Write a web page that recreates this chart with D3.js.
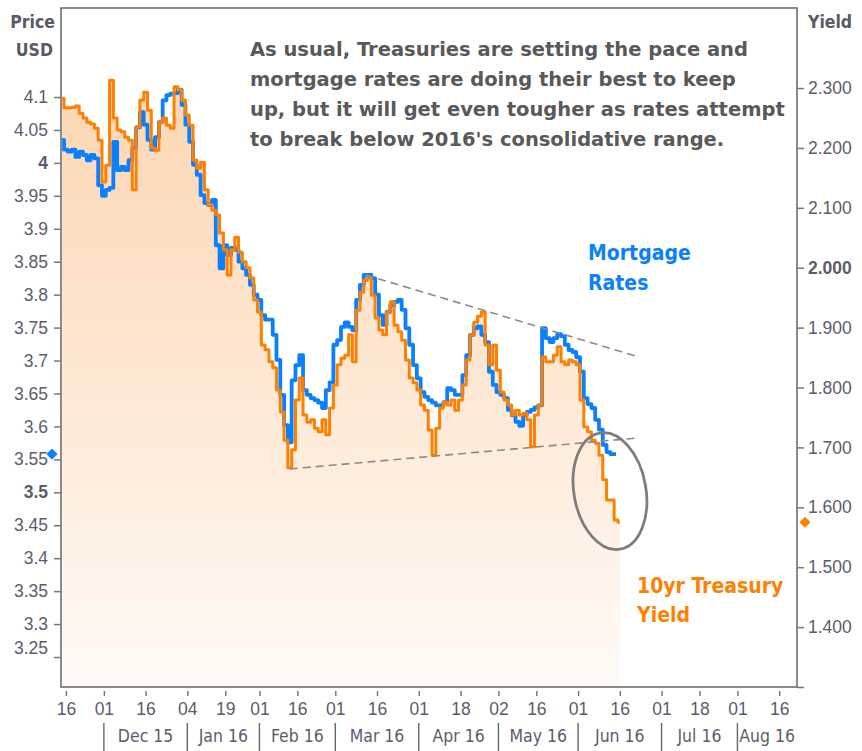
<!DOCTYPE html>
<html>
<head>
<meta charset="utf-8">
<script src="https://cdn.jsdelivr.net/npm/d3@7"></script>
<style>
  body { margin: 0; background: #fff; }
  svg { display: block; font-family: "DejaVu Sans Condensed", "DejaVu Sans", sans-serif; font-stretch: condensed; }
</style>
</head>
<body>
<svg id="chart" width="862" height="751"></svg>
<script>
// first trading day in the series, and bond market holidays (skipped on the x axis)
var startDate = "2015-11-13";
var holidays = ["2015-11-26", "2015-12-25", "2016-01-01", "2016-01-18",
                "2016-02-15", "2016-03-25", "2016-05-30", "2016-07-04"];

// 10yr treasury yield, one value per trading day from Nov 13 2015 (right axis)
var treasuryYield = [
    2.283, 2.267, 2.267, 2.268, 2.270, 2.258, 2.250, 2.243, 2.240, 2.233, 2.213,
    2.143, 2.171, 2.313, 2.250, 2.230, 2.227, 2.218, 2.213, 2.130, 2.235,
    2.280, 2.293, 2.263, 2.200, 2.196, 2.243, 2.250, 2.238, 2.233, 2.302,
    2.297, 2.280, 2.255, 2.238, 2.180, 2.166, 2.176, 2.130, 2.105, 2.096,
    2.088, 2.058, 2.030, 1.988, 2.030, 2.051, 2.026, 2.010, 2.000, 1.983,
    1.946, 1.926, 1.871, 1.863, 1.843, 1.833, 1.796, 1.759, 1.712, 1.666,
    1.696, 1.779, 1.816, 1.754, 1.742, 1.746, 1.732, 1.726, 1.746, 1.721,
    1.766, 1.804, 1.838, 1.849, 1.854, 1.888, 1.843, 1.929, 1.959, 1.979,
    1.983, 1.954, 1.916, 1.896, 1.888, 1.926, 1.943, 1.904, 1.893, 1.879,
    1.846, 1.816, 1.808, 1.796, 1.771, 1.762, 1.729, 1.687, 1.732, 1.766,
    1.776, 1.771, 1.779, 1.762, 1.779, 1.804, 1.846, 1.888, 1.909, 1.919,
    1.926, 1.871, 1.838, 1.871, 1.829, 1.792, 1.779, 1.771, 1.754, 1.762,
    1.754, 1.757, 1.746, 1.701, 1.754, 1.771, 1.851, 1.843, 1.843, 1.854,
    1.868, 1.843, 1.838, 1.846, 1.843, 1.838, 1.779, 1.734, 1.726, 1.712,
    1.707, 1.687, 1.646, 1.612, 1.612, 1.579, 1.575
];

// mortgage rates, same days (left axis)
var mortgageRates = [
    4.035, 4.020, 4.017, 4.020, 4.009, 4.017, 4.012, 4.004, 4.012, 4.007, 3.966,
    3.950, 3.959, 3.962, 4.032, 3.989, 3.994, 3.989, 4.004, 4.023, 4.054,
    4.077, 4.058, 4.035, 4.020, 4.039, 4.062, 4.095, 4.103, 4.105, 4.106,
    4.111, 4.088, 4.058, 4.032, 3.997, 3.982, 3.951, 3.939, 3.936, 3.944,
    3.875, 3.840, 3.875, 3.860, 3.871, 3.868, 3.850, 3.840, 3.830, 3.815,
    3.800, 3.792, 3.769, 3.762, 3.762, 3.739, 3.701, 3.648, 3.602, 3.576,
    3.670, 3.693, 3.708, 3.655, 3.648, 3.643, 3.640, 3.636, 3.628, 3.655,
    3.667, 3.724, 3.731, 3.751, 3.758, 3.751, 3.746, 3.792, 3.815, 3.830,
    3.830, 3.825, 3.800, 3.769, 3.754, 3.774, 3.784, 3.789, 3.792, 3.777,
    3.749, 3.724, 3.693, 3.673, 3.652, 3.645, 3.640, 3.636, 3.632, 3.632,
    3.637, 3.658, 3.655, 3.648, 3.648, 3.678, 3.708, 3.739, 3.749, 3.752,
    3.739, 3.728, 3.683, 3.663, 3.652, 3.648, 3.643, 3.625, 3.617, 3.607,
    3.601, 3.617, 3.622, 3.625, 3.629, 3.632, 3.749, 3.734, 3.728, 3.734,
    3.740, 3.737, 3.724, 3.716, 3.713, 3.705, 3.683, 3.643, 3.634, 3.628,
    3.610, 3.595, 3.572, 3.561, 3.558, 3.558
];

var dayTicks = ["2015-11-16", "2015-12-01", "2015-12-16", "2016-01-04", "2016-01-19",
                "2016-02-01", "2016-02-16", "2016-03-01", "2016-03-16", "2016-04-01",
                "2016-04-18", "2016-05-02", "2016-05-16", "2016-06-01", "2016-06-16",
                "2016-07-01", "2016-07-18", "2016-08-01", "2016-08-16"];
var monthStarts = ["2015-12-01", "2016-01-04", "2016-02-01", "2016-03-01", "2016-04-01",
                   "2016-05-02", "2016-06-01", "2016-07-01", "2016-08-01"];
var monthLabels = ["Dec 15", "Jan 16", "Feb 16", "Mar 16", "Apr 16", "May 16", "Jun 16", "Jul 16", "Aug 16"];

var priceTicks = [4.1, 4.05, 4, 3.95, 3.9, 3.85, 3.8, 3.75, 3.7, 3.65, 3.6, 3.55, 3.5, 3.45, 3.4, 3.35, 3.3, 3.25];
var yieldTicks = [2.3, 2.2, 2.1, 2.0, 1.9, 1.8, 1.7, 1.6, 1.5, 1.4, 1.3];

// trend lines drawn against the yield axis
var upperTrend = [["2016-03-11", 1.988], ["2016-06-22", 1.853]];
var lowerTrend = [["2016-02-11", 1.664], ["2016-06-23", 1.716]];

var noteLines = [
    "As usual, Treasuries are setting the pace and",
    "mortgage rates are doing their best to keep",
    "up, but it will get even tougher as rates attempt",
    "to break below 2016's consolidative range."
];

// trading day list (weekdays minus holidays)
var fmt = d3.timeFormat("%Y-%m-%d");
var parse = d3.timeParse("%Y-%m-%d");
var days = d3.timeDay.range(parse(startDate), parse("2016-09-10"))
    .filter(d => d.getDay() % 6 != 0 && holidays.indexOf(fmt(d)) < 0)
    .map(fmt);
function dayIndex(s) { return days.indexOf(s); }

var plotLeft = 61, plotRight = 797, plotTop = 8, plotBottom = 687;
var axisColor = "#5c5c6a";

var svg = d3.select("#chart");

var x = d3.scaleLinear()
    .domain([dayIndex("2015-11-16") - 1.3, dayIndex("2016-08-16") + 4.7])
    .range([plotLeft, plotRight]);
var yPrice = d3.scaleLinear().domain([3.2045, 4.2351]).range([plotBottom, plotTop]);
var yYield = d3.scaleLinear().domain([1.3, 2.4336]).range([plotBottom, plotTop]);

// fill gradient under the treasury line
var defs = svg.append("defs");
var grad = defs.append("linearGradient")
    .attr("id", "fillGrad")
    .attr("gradientUnits", "userSpaceOnUse")
    .attr("x1", 0).attr("x2", 0)
    .attr("y1", 85).attr("y2", plotBottom);
grad.append("stop").attr("offset", 0).attr("stop-color", "#fcd6b2");
grad.append("stop").attr("offset", 1).attr("stop-color", "#fffaf6");

var area = d3.area()
    .curve(d3.curveStep)
    .x((d, i) => x(i))
    .y0(plotBottom)
    .y1(d => yYield(d));

svg.append("path")
    .datum(treasuryYield)
    .attr("d", area)
    .attr("fill", "url(#fillGrad)");

// frame
svg.append("rect")
    .attr("x", plotLeft).attr("y", plotTop)
    .attr("width", plotRight - plotLeft).attr("height", plotBottom - plotTop)
    .attr("fill", "none")
    .attr("stroke", "#6e6e6e")
    .attr("stroke-width", 1.6);

// lines
var mortgageLine = d3.line()
    .curve(d3.curveStep)
    .x((d, i) => x(i))
    .y(d => yPrice(d));
var yieldLine = d3.line()
    .curve(d3.curveStep)
    .x((d, i) => x(i))
    .y(d => yYield(d));

svg.append("path")
    .datum(mortgageRates)
    .attr("d", mortgageLine)
    .attr("fill", "none")
    .attr("stroke", "#0a80ff")
    .attr("stroke-width", 3.8)
    .attr("stroke-linejoin", "round");

svg.append("path")
    .datum(treasuryYield)
    .attr("d", yieldLine)
    .attr("fill", "none")
    .attr("stroke", "#ff8000")
    .attr("stroke-width", 3)
    .attr("stroke-linejoin", "round");

// dashed trend lines
[upperTrend, lowerTrend].forEach(t => {
    svg.append("line")
        .attr("x1", x(dayIndex(t[0][0]))).attr("y1", yYield(t[0][1]))
        .attr("x2", x(dayIndex(t[1][0]))).attr("y2", yYield(t[1][1]))
        .attr("stroke", "#8a8a8a")
        .attr("stroke-width", 1.6)
        .attr("stroke-dasharray", "8,5");
});

// circle round the breakdown
svg.append("ellipse")
    .attr("transform", `translate(${x(dayIndex("2016-06-13")) + 1.5},${yYield(1.627)}) rotate(-10)`)
    .attr("rx", 36).attr("ry", 59)
    .attr("fill", "none")
    .attr("stroke", "#7d7d7d")
    .attr("stroke-width", 2.8);

// left axis
var leftAxis = svg.append("g")
    .attr("transform", `translate(${plotLeft},0)`)
    .call(d3.axisLeft(yPrice).tickValues(priceTicks).tickSize(7).tickPadding(6)
        .tickFormat(d3.format("~f")));
leftAxis.select(".domain").remove();
leftAxis.selectAll("line").attr("stroke", "#777").attr("stroke-width", 1.5);
leftAxis.selectAll("text")
    .attr("fill", axisColor)
    .attr("font-size", 17.5)
    .attr("font-family", null)
    .attr("font-weight", d => (d == 4 || d == 3.5) ? "bold" : null)
    .attr("dy", d => d == 3.25 ? "-0.18em" : "0.32em");

// right axis
var rightAxis = svg.append("g")
    .attr("transform", `translate(${plotRight},0)`)
    .call(d3.axisRight(yYield).tickValues(yieldTicks).tickSize(7).tickPadding(4)
        .tickFormat(d => d < 1.35 ? "" : d3.format(".3f")(d)));
rightAxis.select(".domain").remove();
rightAxis.selectAll("line").attr("stroke", "#777").attr("stroke-width", 1.5);
rightAxis.selectAll("text")
    .attr("fill", axisColor)
    .attr("font-size", 17.5)
    .attr("font-family", null)
    .attr("font-weight", d => d == 2 ? "bold" : null);

// bottom axis, day labels
var bottomAxis = svg.append("g")
    .attr("transform", `translate(0,${plotBottom + 4})`)
    .call(d3.axisBottom(x).tickValues(dayTicks.map(dayIndex)).tickSize(5).tickPadding(7)
        .tickFormat(i => days[i].slice(8)));
bottomAxis.select(".domain").remove();
bottomAxis.selectAll("line").attr("stroke", "#777").attr("stroke-width", 1.5);
bottomAxis.selectAll("text")
    .attr("fill", axisColor)
    .attr("font-size", 17.5)
    .attr("font-family", null);

// month separators and labels
monthStarts.forEach((m, i) => {
    var x0 = x(dayIndex(m));
    var x1 = i < monthStarts.length - 1 ? x(dayIndex(monthStarts[i + 1])) : plotRight;
    svg.append("line")
        .attr("x1", x0).attr("x2", x0)
        .attr("y1", 723).attr("y2", 751)
        .attr("stroke", "#666")
        .attr("stroke-width", 1.4);
    svg.append("text")
        .attr("x", (x0 + x1) / 2)
        .attr("y", 742)
        .attr("text-anchor", "middle")
        .attr("fill", axisColor)
        .attr("font-size", 17.5)
        .text(monthLabels[i]);
});

// axis titles
svg.append("text").attr("x", 55).attr("y", 28).attr("text-anchor", "end")
    .attr("font-size", 17.5).attr("font-weight", "bold").attr("fill", "#5a5a66").text("Price");
svg.append("text").attr("x", 53).attr("y", 56).attr("text-anchor", "end")
    .attr("font-size", 17.5).attr("font-weight", "bold").attr("fill", "#5a5a66").text("USD");
svg.append("text").attr("x", 808).attr("y", 28)
    .attr("font-size", 17.5).attr("font-weight", "bold").attr("fill", "#5a5a66").text("Yield");

// last value markers
var diamond = d3.symbol().type(d3.symbolSquare).size(62);
svg.append("path")
    .attr("d", diamond)
    .attr("transform", `translate(${plotLeft - 9},${yPrice(mortgageRates[mortgageRates.length - 1])}) rotate(45)`)
    .attr("fill", "#0a80ff");
svg.append("path")
    .attr("d", diamond)
    .attr("transform", `translate(${plotRight + 8},${yYield(treasuryYield[treasuryYield.length - 1])}) rotate(45)`)
    .attr("fill", "#ff8000");

// commentary
svg.selectAll(".note")
    .data(noteLines)
    .enter()
    .append("text")
    .attr("class", "note")
    .attr("x", 250)
    .attr("y", (d, i) => 56 + i * 30)
    .attr("font-family", "'DejaVu Sans', sans-serif")
    .style("font-stretch", "normal")
    .attr("font-size", 19.5)
    .attr("font-weight", "bold")
    .attr("fill", "#595959")
    .text(d => d);

// series labels
svg.append("text").attr("x", 588).attr("y", 260)
    .attr("font-size", 21).attr("font-weight", "bold").attr("fill", "#0a80ff").text("Mortgage");
svg.append("text").attr("x", 588).attr("y", 290)
    .attr("font-size", 21).attr("font-weight", "bold").attr("fill", "#0a80ff").text("Rates");
svg.append("text").attr("x", 637).attr("y", 593)
    .attr("font-size", 21).attr("font-weight", "bold").attr("fill", "#ff8000").text("10yr Treasury");
svg.append("text").attr("x", 637).attr("y", 622)
    .attr("font-size", 21).attr("font-weight", "bold").attr("fill", "#ff8000").text("Yield");
</script>
</body>
</html>
